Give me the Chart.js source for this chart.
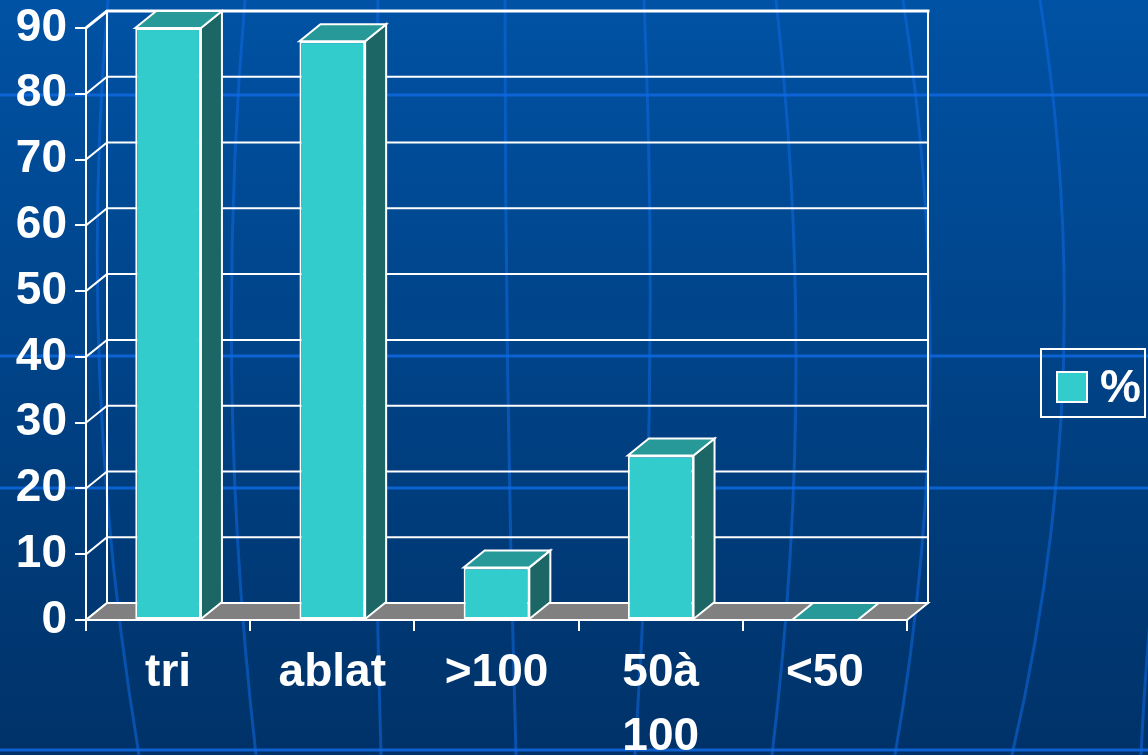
<!DOCTYPE html>
<html>
<head>
<meta charset="utf-8">
<script src="https://cdn.jsdelivr.net/npm/chart.js@4/dist/chart.umd.min.js"></script>
<style>
  html, body { margin: 0; padding: 0; background: #00407f; }
  #wrap { width: 1148px; height: 755px; }
</style>
</head>
<body>
<div id="wrap"><canvas id="chart" width="1148" height="755"></canvas></div>
<script>
  "use strict";

  const categories = ['tri', 'ablat', '>100', ['50à', '100'], '<50'];
  const percent = [90, 88, 8, 25, 0];
  const seriesName = '%';
  const yMin = 0;
  const yMax = 90;
  const yStep = 10;

  // depth of the fake 3d walls and bars
  const DX = 21;
  const DY = 17;

  const FONT = '"Liberation Sans", Arial, sans-serif';
  const FRONT = '#33CCCC';
  const SIDE = '#1C6666';
  const TOP = '#289999';
  const FLOOR = '#808080';

  function poly(ctx, pts, fill, stroke, lw) {
    ctx.beginPath();
    ctx.moveTo(pts[0][0], pts[0][1]);
    for (let i = 1; i < pts.length; i++) ctx.lineTo(pts[i][0], pts[i][1]);
    ctx.closePath();
    if (fill) { ctx.fillStyle = fill; ctx.fill(); }
    if (stroke) { ctx.strokeStyle = stroke; ctx.lineWidth = lw || 2; ctx.stroke(); }
  }

  const backdrop = {
    id: 'backdrop',
    beforeDraw(chart) {
      const ctx = chart.ctx;
      const w = chart.width, h = chart.height;
      ctx.save();
      const g = ctx.createLinearGradient(0, 0, 0, h);
      g.addColorStop(0, '#0052A4');
      g.addColorStop(1, '#003268');
      ctx.fillStyle = g;
      ctx.fillRect(0, 0, w, h);

      // faint globe lines of the slide template
      ctx.strokeStyle = 'rgba(15,105,225,0.55)';
      ctx.lineWidth = 3;
      [
        [108, 76, 139],
        [245, 213, 256],
        [378, 370, 381],
        [505, 505, 516],
        [644, 660, 635],
        [776, 818, 772],
        [903, 961, 895],
        [1040, 1100, 1012]
      ].forEach(c => {
        ctx.beginPath(); ctx.moveTo(c[0], 0); ctx.quadraticCurveTo(c[1], h / 2, c[2], h); ctx.stroke();
      });
      ctx.beginPath(); ctx.moveTo(1150, 620); ctx.quadraticCurveTo(1144, 690, 1141, h); ctx.stroke();
      ctx.strokeStyle = 'rgba(15,105,225,0.85)';
      ctx.lineWidth = 3;
      [95, 356, 488, 750].forEach(y => {
        ctx.beginPath(); ctx.moveTo(0, y); ctx.lineTo(w, y); ctx.stroke();
      });
      ctx.restore();
    },
    beforeDatasetsDraw(chart) {
      const ctx = chart.ctx;
      const {left, right, bottom, top} = chart.chartArea;
      const y = chart.scales.y;
      ctx.save();
      ctx.lineCap = 'square';
      // back wall and left wall grid
      y.ticks.forEach(t => {
        const py = y.getPixelForValue(t.value);
        ctx.beginPath();
        ctx.moveTo(left, py);
        ctx.lineTo(left + DX, py - DY);
        ctx.lineTo(right + DX, py - DY);
        ctx.strokeStyle = '#ffffff';
        ctx.lineWidth = t.value === yMax ? 3 : 2;
        ctx.stroke();
      });
      ctx.beginPath();
      ctx.moveTo(left + DX, top - DY);
      ctx.lineTo(left + DX, bottom - DY);
      ctx.moveTo(right + DX, top - DY);
      ctx.lineTo(right + DX, bottom - DY);
      ctx.lineWidth = 2;
      ctx.stroke();
      // floor
      const b = y.getPixelForValue(yMin);
      poly(ctx, [[left, b], [right, b], [right + DX, b - DY], [left + DX, b - DY]], FLOOR, '#ffffff', 2);
      ctx.restore();
    },
    afterDatasetsDraw(chart) {
      const ctx = chart.ctx;
      const meta = chart.getDatasetMeta(0);
      ctx.save();
      meta.data.forEach(bar => {
        const {x, y, base, width} = bar.getProps(['x', 'y', 'base', 'width'], true);
        const l = x - width / 2, r = x + width / 2;
        if (base - y > 0.5) {
          poly(ctx, [[r, y], [r + DX, y - DY], [r + DX, base - DY], [r, base]], SIDE, '#ffffff', 2);
        }
        poly(ctx, [[l, y], [r, y], [r + DX, y - DY], [l + DX, y - DY]], TOP, '#ffffff', 2);
      });
      ctx.restore();
    },
    afterDraw(chart) {
      // legend box on the right
      const ctx = chart.ctx;
      ctx.save();
      ctx.strokeStyle = '#ffffff';
      ctx.lineWidth = 2;
      ctx.strokeRect(1041, 349, 104, 68);
      ctx.fillStyle = FRONT;
      ctx.fillRect(1057, 372, 30, 30);
      ctx.strokeRect(1057, 372, 30, 30);
      ctx.fillStyle = '#ffffff';
      ctx.font = 'bold 46px ' + FONT;
      ctx.textBaseline = 'middle';
      ctx.textAlign = 'left';
      ctx.fillText(chart.data.datasets[0].label, 1100, 389);
      ctx.restore();
    }
  };

  new Chart(document.getElementById('chart'), {
    type: 'bar',
    data: {
      labels: categories,
      datasets: [{
        label: seriesName,
        data: percent,
        backgroundColor: FRONT,
        borderColor: '#ffffff',
        borderWidth: 2,
        borderSkipped: false,
        barPercentage: 0.4,
        categoryPercentage: 1
      }]
    },
    options: {
      responsive: false,
      devicePixelRatio: 1,
      animation: false,
      events: [],
      layout: { padding: { top: 28, right: 241, bottom: 0, left: 0 } },
      plugins: {
        legend: { display: false },
        tooltip: { enabled: false }
      },
      scales: {
        x: {
          offset: true,
          grid: {
            offset: true,
            drawOnChartArea: false,
            drawTicks: true,
            tickLength: 11,
            color: '#ffffff',
            lineWidth: 2
          },
          border: { display: true, color: '#ffffff', width: 2 },
          ticks: {
            color: '#ffffff',
            font: { family: FONT, size: 46, weight: 'bold', lineHeight: 1.4 },
            padding: 10,
            maxRotation: 0,
            autoSkip: false
          },
          afterFit(scale) { scale.height = 135; }
        },
        y: {
          min: yMin,
          max: yMax,
          grid: {
            drawOnChartArea: false,
            drawTicks: true,
            tickLength: 11,
            color: '#ffffff',
            lineWidth: 2
          },
          border: { display: true, color: '#ffffff', width: 2 },
          ticks: {
            stepSize: yStep,
            color: '#ffffff',
            font: { family: FONT, size: 46, weight: 'bold' },
            padding: 8
          },
          afterFit(scale) {
            scale.width = 86;
            scale.paddingTop = 0;
            scale.paddingBottom = 0;
          }
        }
      }
    },
    plugins: [backdrop]
  });
</script>
</body>
</html>
